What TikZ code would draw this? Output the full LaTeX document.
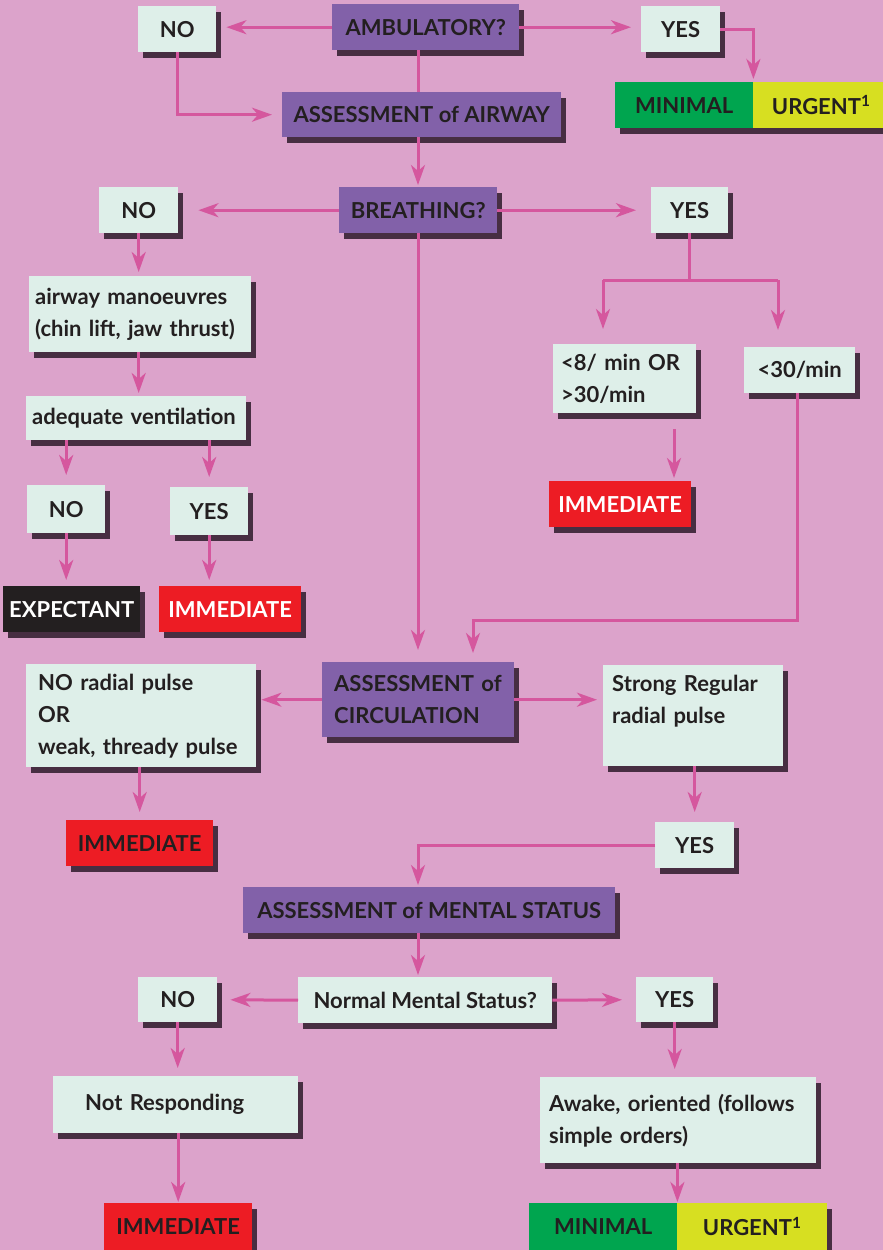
\documentclass[tikz,border=0pt]{standalone}
\usepackage{fontspec}
\setmainfont{Lato}
\usepackage{tikz}
\usetikzlibrary{arrows.meta,shadows}
\hyphenpenalty=10000
\exhyphenpenalty=10000
\definecolor{bgpink}{HTML}{DCA3CB}
\definecolor{boxlight}{HTML}{DEEFE9}
\definecolor{boxpurple}{HTML}{8261A9}
\definecolor{arrowpink}{HTML}{D5579E}
\definecolor{boxred}{HTML}{ED1C24}
\definecolor{boxgreen}{HTML}{00A54F}
\definecolor{boxyellow}{HTML}{D7DF21}
\definecolor{boxdark}{HTML}{231F20}
\definecolor{shadowc}{HTML}{2E1A2B}
\tikzset{
  box_base/.style={anchor=north west,inner sep=0pt,minimum height=46pt,
    font=\bfseries\fontsize{22}{32}\selectfont,text=boxdark,
    drop shadow={shadow xshift=5pt,shadow yshift=-6pt,fill=shadowc,opacity=0.85}},
  box_light/.style={box_base,fill=boxlight},
  box_purple/.style={box_base,fill=boxpurple},
  box_red/.style={box_base,fill=boxred},
  box_redw/.style={box_base,fill=boxred,text=white},
  box_dark/.style={box_base,fill=boxdark,text=white},
  box_green/.style={box_base,fill=boxgreen},
  box_yellow/.style={box_base,fill=boxyellow},
  box_text/.style={align=left,inner xsep=#1},
  arr/.style={-{Stealth[length=20pt,width=14pt,inset=6pt]},draw=arrowpink,line width=3pt,shorten >=10pt},
  arr_plain/.style={draw=arrowpink,line width=3pt},
}
\begin{document}
\begin{tikzpicture}[x=1pt,y=-1pt]
  \fill[bgpink] (0,0) rectangle (883,1250);
  \useasboundingbox (0,0) rectangle (883,1250);

  % ambulatory
  \node[box_purple,minimum width=187pt] (amb) at (332,4) {AMBULATORY?};
  \node[box_light,minimum width=78pt] (no1) at (138,6) {NO};
  \node[box_light,minimum width=79pt] (yes1) at (641,6) {YES};
  \node[box_green,minimum width=138pt] (minimal1) at (615,82) {MINIMAL};
  \node[box_yellow,minimum width=136pt] (urgent1) at (753,82) {URGENT\textsuperscript{1}};
  \node[box_purple,minimum width=279pt,minimum height=45pt] (airway) at (282,92) {ASSESSMENT of AIRWAY};

  % breathing
  \node[box_purple,minimum width=158pt] (breath) at (339,187) {BREATHING?};
  \node[box_light,minimum width=79pt] (no2) at (99,187) {NO};
  \node[box_light,minimum width=77pt] (yes2) at (651,187) {YES};
  \node[box_light,box_text=6pt,text width=210pt,minimum height=76pt] (manv) at (29,276)
    {airway manoeuvres\\(chin lift, jaw thrust)};
  \node[box_light,box_text=6pt,text width=208pt,minimum height=44pt] (adeq) at (26,396) {adequate ventilation};
  \node[box_light,minimum width=78pt,minimum height=48pt] (no3) at (27,485) {NO};
  \node[box_light,minimum width=78pt,minimum height=48pt] (yes3) at (170,487) {YES};
  \node[box_dark,minimum width=137pt] (expect) at (3,586) {EXPECTANT};
  \node[box_redw,minimum width=142pt] (imm1) at (159,586) {IMMEDIATE};
  \node[box_light,box_text=8pt,text width=127pt,minimum height=69pt] (rate1) at (553,344)
    {<8/ min OR\\>30/min};
  \node[box_light,minimum width=111pt] (rate2) at (744,347) {<30/min};
  \node[box_redw,minimum width=142pt] (imm2) at (549,481) {IMMEDIATE};

  % circulation
  \node[box_purple,box_text=12pt,text width=168pt,minimum height=75pt] (circ) at (322,662)
    {ASSESSMENT of\\CIRCULATION};
  \node[box_light,box_text=12pt,text width=206pt,minimum height=103pt] (nopulse) at (26,664)
    {NO radial pulse\\OR\\weak, thready pulse};
  \node[box_light,box_text=9pt,text width=162pt,minimum height=101pt] (strong) at (603,665)
    {Strong Regular\\radial pulse\\\mbox{}};
  \node[box_red,minimum width=147pt] (imm3) at (66,820) {IMMEDIATE};
  \node[box_light,minimum width=79pt] (yes4) at (655,822) {YES};

  % mental status
  \node[box_purple,minimum width=372pt] (mental) at (243,887) {ASSESSMENT of MENTAL STATUS};
  \node[box_light,minimum width=254pt] (normal) at (298,977) {Normal Mental Status?};
  \node[box_light,minimum width=79pt,minimum height=45pt] (no5) at (138,977) {NO};
  \node[box_light,minimum width=77pt,minimum height=45pt] (yes5) at (636,977) {YES};
  \node[box_light,box_text=32pt,text width=181pt,minimum height=57pt] (notresp) at (53,1076) {Not Responding};
  \node[box_light,box_text=9pt,text width=258pt,minimum height=86pt] (awake) at (540,1077)
    {Awake, oriented (follows\\simple orders)};
  \node[box_red,minimum width=148pt,minimum height=47pt] (imm4) at (104,1203) {IMMEDIATE};
  \node[box_green,minimum width=148pt,minimum height=47pt] (minimal2) at (529,1203) {MINIMAL};
  \node[box_yellow,minimum width=150pt,minimum height=47pt] (urgent2) at (677,1203) {URGENT\textsuperscript{1}};

  \coordinate (trunk) at (418,0);
  \coordinate (spl_l) at (603,280);
  \coordinate (spl_r) at (778,280);
  \coordinate (c_rate) at (674,0);
  \coordinate (c_loop) at (797,620);
  \coordinate (c_in) at (473,0);

  \draw[arr_plain] (amb.south -| trunk) -- (airway.north -| trunk);
  \draw[arr] (amb.west) -- (no1.east |- amb.west);
  \draw[arr] (amb.east) -- (yes1.west |- amb.east);
  \draw[arr] (no1.south) |- (airway.west);
  \draw[arr,shorten >=3pt] (yes1.east) -| (minimal1.north east);
  \draw[arr,shorten >=2pt] (airway.south -| trunk) -- (breath.north -| trunk);
  \draw[arr,shorten >=20pt] (breath.west) -- (no2.east |- breath.west);
  \draw[arr,shorten >=15pt] (breath.east) -- (yes2.west |- breath.east);
  \draw[arr,shorten >=12pt] (breath.south -| trunk) -- (circ.north -| trunk);
  \draw[arr,shorten >=4pt] (no2.south) -- (no2.south |- manv.north);
  \draw[arr,shorten >=3pt] (manv.south -| no2) -- (adeq.north -| no2);
  \draw[arr] (adeq.south -| no3) -- (no3.north);
  \draw[arr] (adeq.south -| yes3) -- (yes3.north);
  \draw[arr,shorten >=6pt] (no3.south) -- (no3.south |- expect.north);
  \draw[arr,shorten >=6pt] (yes3.south) -- (yes3.south |- imm1.north);
  \draw[arr_plain] (yes2.south) -- (yes2.south |- spl_l);
  \draw[arr_plain] (spl_l) -- (spl_r);
  \draw[arr,shorten >=15pt] (spl_l) -- (spl_l |- rate1.north);
  \draw[arr,shorten >=17pt] (spl_r) -- (spl_r |- rate2.north);
  \draw[arr,shorten <=16pt,shorten >=3pt] (rate1.south -| c_rate) -- (imm2.north -| c_rate);
  \draw[arr,shorten >=9pt] (rate2.south -| c_loop) -- (c_loop) -| (circ.north -| c_in);
  \draw[arr,shorten >=5pt] (circ.west) -- (nopulse.east |- circ.west);
  \draw[arr,shorten >=6pt] (circ.east) -- (strong.west |- circ.east);
  \draw[arr,shorten >=8pt] (nopulse.south -| imm3) -- (imm3.north);
  \draw[arr,shorten >=10pt] (strong.south -| yes4) -- (yes4.north);
  \draw[arr,shorten >=2pt] (yes4.west) -| (mental.north -| trunk);
  \draw[arr,shorten >=2pt] (mental.south -| trunk) -- (normal.north -| trunk);
  \draw[arr,shorten >=13pt] (normal.west) -- (no5.east);
  \draw[arr,shorten >=14pt] (normal.east) -- (yes5.west);
  \draw[arr,shorten >=8pt] (no5.south) -- (no5.south |- notresp.north);
  \draw[arr,shorten >=1pt] (notresp.south -| imm4) -- (imm4.north);
  \draw[arr,shorten >=8pt] (yes5.south) -- (yes5.south |- awake.north);
  \draw[arr,shorten >=1pt] (awake.south -| minimal2.north east) -- (minimal2.north east);
\end{tikzpicture}
\end{document}
